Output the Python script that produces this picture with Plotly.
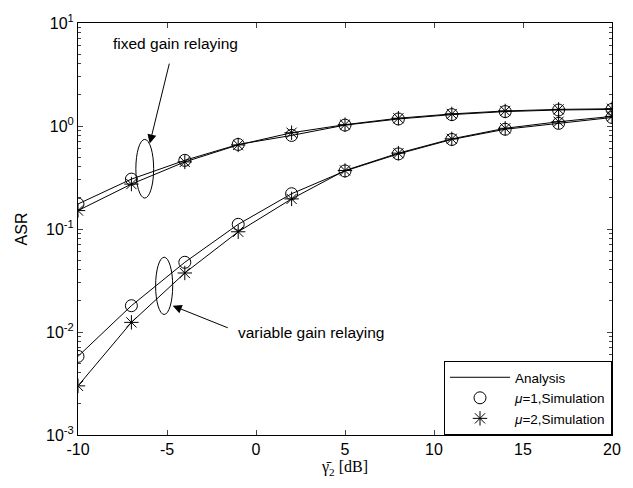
import plotly.graph_objects as go

x = [-10, -7, -4, -1, 2, 5, 8, 11, 14, 17, 20]
fixed_mu1 = [0.175, 0.305, 0.464, 0.662, 0.81, 1.02, 1.17, 1.29, 1.38, 1.43, 1.45]
fixed_mu2 = [0.151, 0.273, 0.448, 0.655, 0.86, 1.03, 1.19, 1.31, 1.40, 1.45, 1.47]
var_mu1 = [0.0058, 0.018, 0.0475, 0.111, 0.22, 0.366, 0.536, 0.74, 0.93, 1.06, 1.21]
var_mu2 = [0.0030, 0.0124, 0.0374, 0.094, 0.196, 0.37, 0.545, 0.75, 0.95, 1.10, 1.24]
x_ticks = [-10, -5, 0, 5, 10, 15, 20]
x_ticklabels = ["-10", "-5", "0", "5", "10", "15", "20"]
y_ticks = [1e-3, 1e-2, 1e-1, 1e0, 1e1]
y_ticklabels = ["10<sup>-3</sup>", "10<sup>-2</sup>", "10<sup>-1</sup>", "10<sup>0</sup>", "10<sup>1</sup>"]
y_minor = [m * d for d in [1e-3, 1e-2, 1e-1, 1e0] for m in range(2, 10)]

fig = go.Figure()
first = True
for ys in [fixed_mu1, fixed_mu2, var_mu1, var_mu2]:
    fig.add_trace(go.Scatter(x=x, y=ys, mode="lines", line=dict(color="black", width=1),
                             name="Analysis", showlegend=first, legendrank=1))
    first = False
for ys, show in [(fixed_mu1, True), (var_mu1, False)]:
    fig.add_trace(go.Scatter(x=x, y=ys, mode="markers",
                             marker=dict(symbol="circle-open", size=12, color="black", line=dict(width=1)),
                             name="<i>μ</i>=1,Simulation", showlegend=show, legendrank=2))
for ys, show in [(fixed_mu2, True), (var_mu2, False)]:
    fig.add_trace(go.Scatter(x=x, y=ys, mode="markers",
                             marker=dict(symbol="asterisk-open", size=12, color="black", line=dict(width=1, color="black")),
                             name="<i>μ</i>=2,Simulation", showlegend=show, legendrank=3))

# ellipses
fig.add_shape(type="circle", xref="x", yref="y", x0=-6.75, x1=-5.75, y0=10**-0.70, y1=10**-0.13,
              line=dict(color="black", width=1))
fig.add_shape(type="circle", xref="x", yref="y", x0=-5.64, x1=-4.68, y0=10**-1.83, y1=10**-1.274,
              line=dict(color="black", width=1))

fig.add_annotation(x=-5.97, y=-0.17, ax=-4.85, ay=0.62, axref="x", ayref="y",
                   showarrow=True, arrowhead=2, arrowsize=1.8, arrowwidth=1, arrowcolor="black", text="")
fig.add_annotation(x=-4.5, y=0.80, xref="x", yref="y", text="fixed gain relaying", showarrow=False,
                   font=dict(size=15.5, color="black"))
fig.add_annotation(x=-4.68, y=-1.745, ax=-1.5, ay=-1.965, axref="x", ayref="y",
                   showarrow=True, arrowhead=2, arrowsize=1.8, arrowwidth=1, arrowcolor="black", text="")
fig.add_annotation(x=-1.1, y=-2.0, xref="x", yref="y", text="variable gain relaying", showarrow=False,
                   xanchor="left", font=dict(size=15.5, color="black"))

fig.update_layout(
    width=633, height=488,
    margin=dict(l=78, r=19, t=12, b=53),
    paper_bgcolor="white", plot_bgcolor="white",
    font=dict(family="Liberation Sans, Arial, sans-serif", size=15, color="black"),
    legend=dict(x=1, y=0, xanchor="right", yanchor="bottom", bgcolor="white",
                bordercolor="black", borderwidth=1, font=dict(size=13.5),
                tracegroupgap=0, itemwidth=60),
)
fig.update_xaxes(range=[-10, 20], tickvals=x_ticks, ticktext=x_ticklabels, ticks="inside", ticklen=5,
                 showline=True, linecolor="black", linewidth=1, mirror="ticks",
                 showgrid=False, zeroline=False, tickfont=dict(size=16),
                 title=dict(text="γ̄<sub>2</sub> [dB]", font=dict(family="Liberation Serif, serif", size=16), standoff=3))
fig.update_yaxes(type="log", range=[-3, 1], tickvals=y_ticks, ticktext=y_ticklabels, ticks="inside", ticklen=5,
                 showline=True, linecolor="black", linewidth=1, mirror="ticks",
                 showgrid=False, zeroline=False, tickfont=dict(size=16),
                 minor=dict(tickvals=y_minor, ticks="inside", ticklen=3, showgrid=False),
                 title=dict(text="ASR", font=dict(size=16), standoff=14))

fig.write_html("out.html", config={"displayModeBar": False})
with open("out.html", "r", encoding="utf-8") as f:
    html = f.read()
html = html.replace("<head>", "<head><style>html,body{margin:0;padding:0;overflow:hidden;}</style>", 1)
with open("out.html", "w", encoding="utf-8") as f:
    f.write(html)
